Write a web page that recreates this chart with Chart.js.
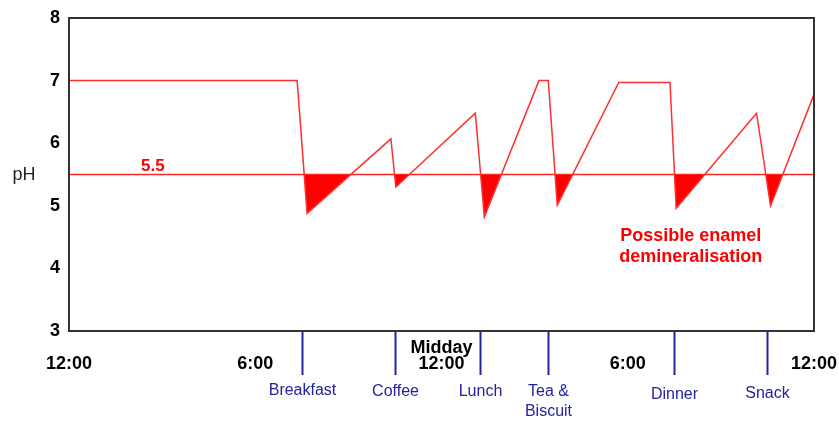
<!DOCTYPE html>
<html>
<head>
<meta charset="utf-8">
<script src="https://cdn.jsdelivr.net/npm/chart.js@4/dist/chart.umd.min.js"></script>
<style>
  html, body { margin: 0; padding: 0; background: #fff; }
  #wrap { width: 839px; height: 421px; }
</style>
</head>
<body>
<div id="wrap"><canvas id="phchart" width="839" height="421"></canvas></div>
<script>

// time of day in hours (0 = midnight), pH values
var phHours = [0, 7.35, 7.67, 10.37, 10.53, 13.09, 13.38, 15.14, 15.44, 15.73, 17.71, 19.36, 19.56, 22.15, 22.6, 24];
var phValues = [7, 7, 4.88, 6.07, 5.3, 6.48, 4.82, 7, 7, 5.01, 6.97, 6.97, 4.96, 6.48, 5.0, 6.78];

var critical = 5.5;

var timeLabels = ["12:00", "6:00", ["Midday", "12:00"], "6:00", "12:00"];

var mealHours = [7.5, 10.49, 13.24, 15.44, 19.5, 22.48];
var mealNames = [["Breakfast"], ["Coffee"], ["Lunch"], ["Tea &", "Biscuit"], ["Dinner"], ["Snack"]];
var mealLabelY = [391, 392, 392, 392, 395, 394];

var noteLines = ["Possible enamel", "demineralisation"];

function init_chart_ph(){

	if( typeof (Chart) === 'undefined'){ return; }

	var phPoints = phHours.map(function(h, i){ return {x: h, y: phValues[i]}; });

	var extras = {
		id: 'extras',
		afterDraw: function(chart){
			var ctx = chart.ctx;
			var a = chart.chartArea;
			var xs = chart.scales.x;
			var ys = chart.scales.y;
			ctx.save();

			// frame round the plot
			ctx.strokeStyle = '#333';
			ctx.lineWidth = 2;
			ctx.strokeRect(a.left, a.top, a.right - a.left, a.bottom - a.top);

			// meal markers under the axis
			ctx.strokeStyle = '#2323a0';
			ctx.lineWidth = 2;
			ctx.fillStyle = '#2323a0';
			ctx.font = '16px "Liberation Sans", Arial, sans-serif';
			ctx.textAlign = 'center';
			ctx.textBaseline = 'middle';
			mealHours.forEach(function(h, i){
				var px = Math.round(xs.getPixelForValue(h)) + 0.5;
				ctx.beginPath();
				ctx.moveTo(px, a.bottom + 1);
				ctx.lineTo(px, a.bottom + 44);
				ctx.stroke();
				mealNames[i].forEach(function(line, j){
					ctx.fillText(line, px, mealLabelY[i] + j * 20);
				});
			});

			// pH axis title
			ctx.fillStyle = '#222';
			ctx.font = '18px "Liberation Sans", Arial, sans-serif';
			ctx.fillText('pH', 24, ys.getPixelForValue(critical) + 1);

			// red notes
			ctx.fillStyle = '#ff0000';
			ctx.font = 'bold 17px "Liberation Sans", Arial, sans-serif';
			ctx.fillText('5.5', xs.getPixelForValue(2.7), ys.getPixelForValue(critical) - 8);
			ctx.font = 'bold 18px "Liberation Sans", Arial, sans-serif';
			ctx.fillText(noteLines[0], xs.getPixelForValue(20.03), 236);
			ctx.fillText(noteLines[1], xs.getPixelForValue(20.03), 257);

			ctx.restore();
		}
	};

	var chart_settings = {
		type: 'line',
		data: {
			datasets: [{
				label: 'pH',
				data: phPoints,
				borderColor: '#ff3030',
				borderWidth: 1.5,
				pointRadius: 0,
				tension: 0,
				fill: { target: { value: critical }, above: 'rgba(0,0,0,0)', below: '#ff0000' }
			}, {
				label: 'critical',
				data: [{x: 0, y: critical}, {x: 24, y: critical}],
				borderColor: '#ff3030',
				borderWidth: 1.5,
				pointRadius: 0,
				fill: false
			}]
		},
		options: {
			responsive: false,
			animation: false,
			layout: { padding: { top: 18, right: 25, bottom: 0, left: 0 } },
			plugins: { legend: false, tooltip: { enabled: false } },
			scales: {
				x: {
					type: 'linear',
					min: 0,
					max: 24,
					grid: { display: false, drawTicks: false },
					border: { display: false },
					afterFit: function(scale){
						scale.height = 90;
						scale.paddingLeft = 0;
						scale.paddingRight = 0;
					},
					ticks: {
						stepSize: 6,
						padding: 17,
						crossAlign: 'far',
						maxRotation: 0,
						autoSkip: false,
						color: '#000',
						font: { family: '"Liberation Sans", Arial, sans-serif', size: 18, weight: 'bold', lineHeight: 0.9 },
						callback: function(v, i){ return timeLabels[i]; }
					}
				},
				y: {
					min: 3,
					max: 8,
					grid: { display: false, drawTicks: false },
					border: { display: false },
					afterFit: function(scale){
						scale.width = 69;
						scale.paddingTop = 0;
						scale.paddingBottom = 0;
					},
					ticks: {
						stepSize: 1,
						padding: 9,
						color: '#000',
						font: { family: '"Liberation Sans", Arial, sans-serif', size: 18, weight: 'bold' }
					}
				}
			}
		},
		plugins: [extras]
	};

	new Chart(document.getElementById('phchart'), chart_settings);
}

init_chart_ph();
</script>
</body>
</html>
